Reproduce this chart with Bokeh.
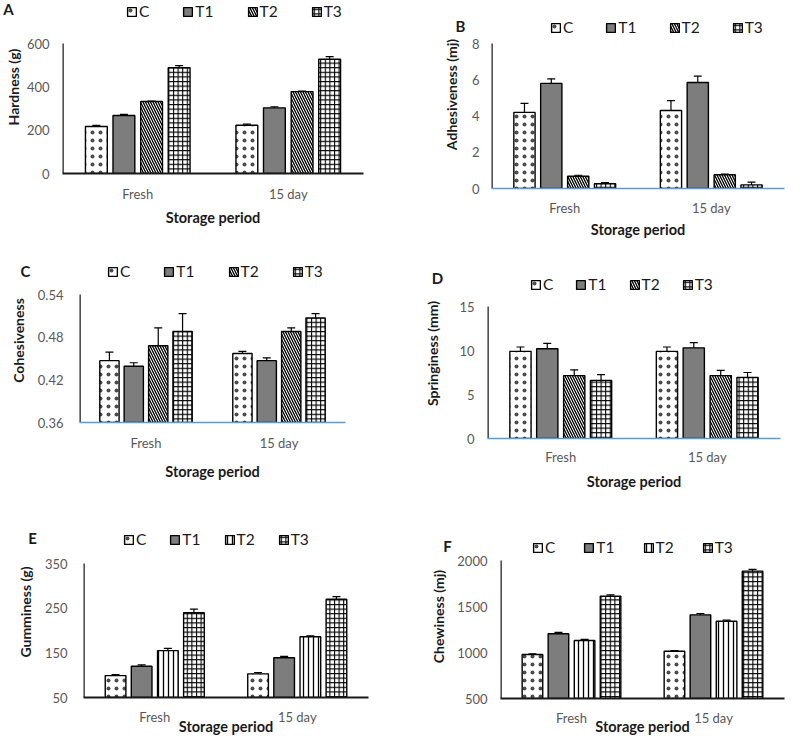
from bokeh.plotting import figure
from bokeh.models import (ColumnDataSource, FactorRange, Range1d, FixedTicker, Whisker,
                          TeeHead, Legend, LegendItem, Label, PrintfTickFormatter)
from bokeh.transform import dodge
from bokeh.layouts import column, row
from bokeh.embed import file_html
from bokeh.resources import INLINE

periods = ["Fresh", "15 day"]
treatments = ["C", "T1", "T2", "T3"]

# A - Hardness (g)
hardness = {"C": [217, 223], "T1": [268, 303], "T2": [332, 378], "T3": [488, 527]}
hardness_lo = {"C": [5, 5], "T1": [5, 5], "T2": [2, 2], "T3": [10, 12]}
hardness_hi = {"C": [5, 5], "T1": [5, 5], "T2": [2, 2], "T3": [10, 12]}

# B - Adhesiveness (mj)
adhesiveness = {"C": [4.2, 4.3], "T1": [5.8, 5.85], "T2": [0.68, 0.76], "T3": [0.26, 0.2]}
adhesiveness_lo = {"C": [1.0, 1.0], "T1": [1.0, 0.95], "T2": [0.05, 0.04], "T3": [0.05, 0.2]}
adhesiveness_hi = {"C": [0.5, 0.55], "T1": [0.25, 0.35], "T2": [0.05, 0.04], "T3": [0.06, 0.15]}

# C - Cohesiveness
cohesiveness = {"C": [0.447, 0.457], "T1": [0.439, 0.447], "T2": [0.468, 0.488], "T3": [0.488, 0.507]}
cohesiveness_lo = {"C": [0.012, 0.01], "T1": [0.005, 0.004], "T2": [0.025, 0.023], "T3": [0.025, 0.023]}
cohesiveness_hi = {"C": [0.012, 0.003], "T1": [0.005, 0.004], "T2": [0.025, 0.005], "T3": [0.025, 0.006]}

# D - Springiness (mm)
springiness = {"C": [9.9, 9.9], "T1": [10.2, 10.3], "T2": [7.15, 7.15], "T3": [6.6, 6.95]}
springiness_lo = {"C": [0.8, 0.8], "T1": [0.9, 0.9], "T2": [0.7, 0.7], "T3": [0.8, 0.8]}
springiness_hi = {"C": [0.5, 0.5], "T1": [0.6, 0.6], "T2": [0.65, 0.6], "T3": [0.65, 0.55]}

# E - Gumminess (g)
gumminess = {"C": [99, 103], "T1": [120, 139], "T2": [155, 186], "T3": [240, 270]}
gumminess_lo = {"C": [2, 3], "T1": [3, 3], "T2": [5, 2], "T3": [8, 6]}
gumminess_hi = {"C": [2, 3], "T1": [3, 3], "T2": [5, 2], "T3": [8, 6]}

# F - Chewiness (mj)
chewiness = {"C": [978, 1014], "T1": [1203, 1409], "T2": [1130, 1340], "T3": [1612, 1884]}
chewiness_lo = {"C": [8, 8], "T1": [15, 15], "T2": [12, 12], "T3": [15, 20]}
chewiness_hi = {"C": [8, 8], "T1": [15, 15], "T2": [12, 12], "T3": [15, 20]}

FONT = "Lato"
BLUE = "#5b9bd5"
DARK = "#1a1a1a"

# layout geometry (page pixels): figure box, frame box, pixel of top tick,
# legend (left x, centre y), panel letter (x, y)
panels = [
    dict(letter="A", ylabel="Hardness (g)", vals=hardness, lo=hardness_lo, hi=hardness_hi,
         yr=(0, 600), ticks=[0, 200, 400, 600], fmt=None, base=DARK, t2="left_diagonal_line",
         fig=(0, 0, 400, 250), frame=(62, 0, 363, 173), tick_top=43,
         leg=(126, 10), spacing=33, let=(8, 8), ystd=(13, 2), xstd=(12, 4)),
    dict(letter="B", ylabel="Adhesiveness (mj)", vals=adhesiveness, lo=adhesiveness_lo, hi=adhesiveness_hi,
         yr=(0, 8), ticks=[0, 2, 4, 6, 8], fmt=None, base=BLUE, t2="left_diagonal_line",
         fig=(400, 0, 396, 250), frame=(491, 0, 784, 188), tick_top=43,
         leg=(550, 26), spacing=32, let=(460, 25), ystd=(12, 9), xstd=(11, 2)),
    dict(letter="C", ylabel="Cohesiveness", vals=cohesiveness, lo=cohesiveness_lo, hi=cohesiveness_hi,
         yr=(0.36, 0.54), ticks=[0.36, 0.42, 0.48, 0.54], fmt="%.2f", base=BLUE, t2="left_diagonal_line",
         fig=(0, 250, 400, 250), frame=(79, 258, 345, 422), tick_top=294,
         leg=(107, 270), spacing=33, let=(25, 270), ystd=(16, 8), xstd=(12, 9)),
    dict(letter="D", ylabel="Springiness (mm)", vals=springiness, lo=springiness_lo, hi=springiness_hi,
         yr=(0, 15), ticks=[0, 5, 10, 15], fmt=None, base=BLUE, t2="left_diagonal_line",
         fig=(400, 250, 396, 250), frame=(487, 268, 780, 438), tick_top=306,
         leg=(530, 283), spacing=22, let=(437, 277), ystd=(13, 15), xstd=(10, 5)),
    dict(letter="E", ylabel="Gumminess (g)", vals=gumminess, lo=gumminess_lo, hi=gumminess_hi,
         yr=(50, 350), ticks=[50, 150, 250, 350], fmt=None, base=DARK, t2="vertical_line",
         fig=(0, 500, 400, 245), frame=(83, 526, 368, 697), tick_top=563,
         leg=(123, 538), spacing=23, let=(32, 537), ystd=(16, 8), xstd=(11, -10)),
    dict(letter="F", ylabel="Chewiness (mj)", vals=chewiness, lo=chewiness_lo, hi=chewiness_hi,
         yr=(500, 2000), ticks=[500, 1000, 1500, 2000], fmt=None, base=DARK, t2="vertical_line",
         fig=(400, 500, 396, 245), frame=(500, 534, 784, 698), tick_top=560,
         leg=(532, 546), spacing=28, let=(447, 545), ystd=(13, 7), xstd=(11, -11)),
]

OFFSETS = [-0.275, -0.092, 0.092, 0.275]
BAR_W = 0.145
LEG_H = 20


def make_panel(cfg):
    fx, fy, w, h = cfg["fig"]
    l, t, r, b = cfg["frame"]
    y0, ytick = cfg["yr"][0], cfg["ticks"][-1]
    # extend the range above the top tick so the frame can hold the legend
    y_end = ytick + (cfg["tick_top"] - t) / (b - cfg["tick_top"]) * (ytick - y0)
    p = figure(width=w, height=h, x_range=FactorRange(factors=periods),
               y_range=Range1d(y0, y_end), output_backend="svg", toolbar_location=None,
               min_border_left=l - fx, min_border_top=t - fy,
               min_border_right=fx + w - r, min_border_bottom=fy + h - b)
    p.frame_align = False
    p.outline_line_color = None
    p.xgrid.visible = False
    p.ygrid.visible = False
    p.background_fill_color = "white"
    p.border_fill_color = "white"

    styles = {
        "C": dict(fill_color="white", hatch_pattern="dot", hatch_color="black", hatch_scale=8,
                  hatch_weight=0.5, hatch_alpha=0.7),
        "T1": dict(fill_color="#7d7d7d"),
        "T2": dict(fill_color="white", hatch_pattern=cfg["t2"], hatch_color="black", hatch_scale=5, hatch_weight=1.3),
        "T3": dict(fill_color="white", hatch_pattern="cross", hatch_color="black", hatch_scale=4.6, hatch_weight=1.1),
    }
    items = []
    for tr, off in zip(treatments, OFFSETS):
        vals = cfg["vals"][tr]
        lower = [v - e for v, e in zip(vals, cfg["lo"][tr])]
        upper = [v + e for v, e in zip(vals, cfg["hi"][tr])]
        src = ColumnDataSource(dict(period=periods, value=vals, lower=lower, upper=upper))
        rr = p.vbar(x=dodge("period", off, range=p.x_range), top="value", bottom=y0,
                    width=BAR_W, source=src, line_color="black", line_width=1.4, **styles[tr])
        wk = Whisker(base=dodge("period", off, range=p.x_range), lower="lower", upper="upper",
                     source=src, line_color="black", line_width=1.2,
                     upper_head=TeeHead(size=8, line_width=1.2, line_color="black"),
                     lower_head=TeeHead(size=8, line_width=1.2, line_color="black"))
        p.add_layout(wk)
        items.append(LegendItem(label=tr, renderers=[rr]))

    # y axis line only up to the top tick
    axsrc = ColumnDataSource(dict(period=[periods[0]], y0=[y0], y1=[ytick]))
    p.segment(x0=dodge("period", -0.5, range=p.x_range), y0="y0",
              x1=dodge("period", -0.5, range=p.x_range), y1="y1",
              source=axsrc, line_color="#262626", line_width=2.6)

    lx, lcy = cfg["leg"]
    leg = Legend(items=items, orientation="horizontal",
                 location=(lx - l, b - (lcy + LEG_H / 2)), spacing=cfg["spacing"],
                 glyph_width=11, glyph_height=11, label_standoff=2, label_width=1,
                 padding=0, margin=0, border_line_color=None, background_fill_alpha=0,
                 label_text_font=FONT, label_text_font_size="15.5px", label_text_color="#1a1a1a")
    p.add_layout(leg)

    ex, ey = cfg["let"]
    p.add_layout(Label(x=ex - r, y=b - ey, x_units="screen", y_units="screen",
                       text=cfg["letter"], text_font=FONT, text_font_size="15px", text_font_style="bold",
                       text_align="center", text_baseline="middle", text_color="#1a1a1a"), "right")

    # y axis
    ya = p.yaxis[0]
    ya.ticker = FixedTicker(ticks=cfg["ticks"])
    if cfg["fmt"]:
        ya.formatter = PrintfTickFormatter(format=cfg["fmt"])
    ya.axis_label = cfg["ylabel"]
    ya.axis_label_text_font = FONT
    ya.axis_label_text_font_size = "14px"
    ya.axis_label_text_font_style = "bold"
    ya.axis_label_text_color = "#1a1a1a"
    ya.major_label_text_font = FONT
    ya.major_label_text_font_size = "13px"
    ya.major_label_text_color = "#595959"
    ya.major_tick_line_color = None
    ya.minor_tick_line_color = None
    ya.major_tick_out = 0
    ya.major_tick_in = 0
    ya.minor_tick_out = 0
    ya.minor_tick_in = 0
    ya.major_label_standoff = cfg["ystd"][0]
    ya.axis_label_standoff = cfg["ystd"][1]
    ya.axis_line_color = None

    # x axis
    xa = p.xaxis[0]
    xa.axis_label = "Storage period"
    xa.axis_label_text_font = FONT
    xa.axis_label_text_font_size = "14.5px"
    xa.axis_label_text_font_style = "bold"
    xa.axis_label_text_color = "#1a1a1a"
    xa.major_label_text_font = FONT
    xa.major_label_text_font_size = "13px"
    xa.major_label_text_color = "#595959"
    xa.major_tick_line_color = None
    xa.minor_tick_line_color = None
    xa.major_tick_out = 0
    xa.major_tick_in = 0
    xa.minor_tick_out = 0
    xa.minor_tick_in = 0
    xa.major_label_standoff = cfg["xstd"][0]
    xa.axis_label_standoff = cfg["xstd"][1]
    xa.axis_line_color = cfg["base"]
    xa.axis_line_width = 1.8 if cfg["base"] == DARK else 1.5
    return p


figs = [make_panel(c) for c in panels]
layout = column(row(figs[0], figs[1]), row(figs[2], figs[3]), row(figs[4], figs[5]))

open("out.html", "w").write(file_html(layout, INLINE))
